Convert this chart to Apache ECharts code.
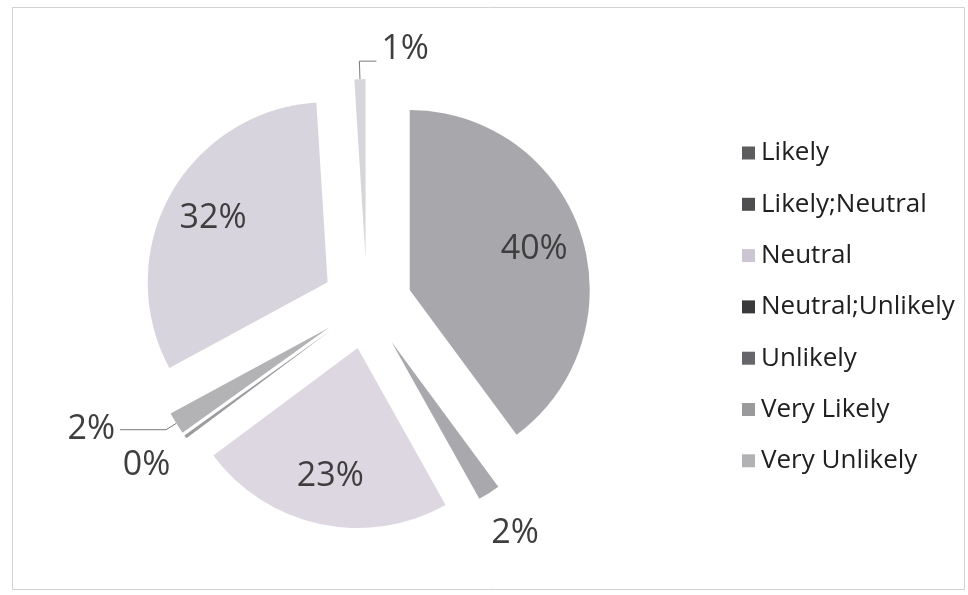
<!DOCTYPE html>
<html>
<head>
<meta charset="utf-8">
<script src="https://cdn.jsdelivr.net/npm/echarts@6/dist/echarts.min.js"></script>
<style>
  html, body { margin: 0; padding: 0; background: #ffffff; }
  #chart { width: 968px; height: 595px; }
</style>
</head>
<body>
<div id="chart"></div>
<script>
// Survey answers and their share of respondents (percent)
const categories = ['Likely', 'Likely;Neutral', 'Neutral', 'Neutral;Unlikely', 'Unlikely', 'Very Likely', 'Very Unlikely'];
const shares = [40, 2, 23, 0.3, 2, 32, 1];

// Fill colours of the slices and of the legend swatches
const sliceColors = ['#a8a7ac', '#a9a9ad', '#ddd7e2', '#9c9c9f', '#b3b3b6', '#d8d4de', '#d6d6da'];
const swatchColors = ['#5c5c5e', '#4e4e50', '#cbc6d2', '#3a3a3c', '#66666a', '#9a9a9c', '#b2b2b4'];

// Where each slice's percentage is written
const bodyLabels = [0, 2, 5];      // inside the slice
const rimLabels = [1, 3];          // just beyond the rim, no leader
const leaderLabels = [4, 6];       // with a leader line

const CENTER = [367, 304];
const RADIUS = 180;
const EXPLODE = 45;
const LABEL_FONT = 'Open Sans';
const pct = p => Math.round(p.percent) + '%';

const labelText = { fontFamily: LABEL_FONT, fontSize: 34, color: '#3e3e3e' };

function items(showIdx, extra) {
  return categories.map((name, i) => {
    const it = { name: name, value: shares[i], selected: true };
    if (extra) Object.assign(it, extra(i));
    it.label = Object.assign({ show: showIdx.includes(i) }, it.label || {});
    return it;
  });
}

const chart = echarts.init(document.getElementById('chart'), null, { renderer: 'canvas' });

const ghostStyle = { color: 'rgba(0,0,0,0)', borderWidth: 0 };

chart.setOption({
  animation: false,
  backgroundColor: '#ffffff',
  color: sliceColors,
  graphic: [{
    type: 'rect',
    shape: { x: 12.5, y: 7.5, width: 952, height: 582 },
    style: { fill: 'none', stroke: '#d2d2d2', lineWidth: 1 },
    silent: true
  }],
  legend: {
    orient: 'vertical',
    left: 737,
    top: 133,
    itemWidth: 13,
    itemHeight: 13,
    itemGap: 21.3,
    icon: 'rect',
    selectedMode: false,
    textStyle: { fontFamily: LABEL_FONT, fontSize: 26, lineHeight: 30, color: '#202020', padding: [0, 0, 0, 1] },
    data: categories.map((name, i) => ({ name: name, itemStyle: { color: swatchColors[i] } }))
  },
  series: [
    {
      // the slices themselves, with leader-line labels for the small ones
      type: 'pie',
      center: CENTER,
      radius: RADIUS,
      startAngle: 90,
      clockwise: true,
      selectedMode: 'multiple',
      selectedOffset: EXPLODE,
      avoidLabelOverlap: false,
      itemStyle: { borderWidth: 0 },
      emphasis: { disabled: true },
      label: Object.assign({ position: 'outside', formatter: pct }, labelText),
      labelLine: { show: true, lineStyle: { color: '#7a7a7a', width: 1 } },
      data: items(leaderLabels, i => {
        if (i === 4) return { labelLine: { length: 12, length2: 46 } };
        if (i === 6) return { labelLine: { length: 18, length2: 17 } };
        return { labelLine: { show: false } };
      }),
      labelLayout: function (p) {
        // the top leader turns right instead of left
        if (p.dataIndex !== 6 || !p.labelLinePoints || !p.labelRect) return {};
        const pts = p.labelLinePoints;
        const a = pts[0], b = pts[1];
        const run = Math.abs(pts[2][0] - b[0]);
        const end = [b[0] + run, b[1]];
        const r = p.labelRect;
        return {
          dx: (end[0] + 5) - r.x,
          dy: (end[1] - 12 - r.height / 2) - r.y,
          labelLinePoints: [a, b, end]
        };
      }
    },
    {
      // percentages written inside the large slices
      type: 'pie',
      center: CENTER,
      radius: 256,
      startAngle: 90,
      clockwise: true,
      selectedMode: 'multiple',
      selectedOffset: EXPLODE,
      silent: true,
      tooltip: { show: false },
      itemStyle: ghostStyle,
      emphasis: { disabled: true },
      label: Object.assign({ position: 'inside', formatter: pct }, labelText),
      labelLine: { show: false },
      data: items(bodyLabels)
    },
    {
      // percentages of thin slices placed just past the rim
      type: 'pie',
      center: CENTER,
      radius: 450,
      startAngle: 90,
      clockwise: true,
      selectedMode: 'multiple',
      selectedOffset: EXPLODE,
      silent: true,
      tooltip: { show: false },
      itemStyle: ghostStyle,
      emphasis: { disabled: true },
      label: Object.assign({ position: 'inside', formatter: pct }, labelText),
      labelLine: { show: false },
      data: items(rimLabels)
    }
  ]
});
</script>
</body>
</html>
